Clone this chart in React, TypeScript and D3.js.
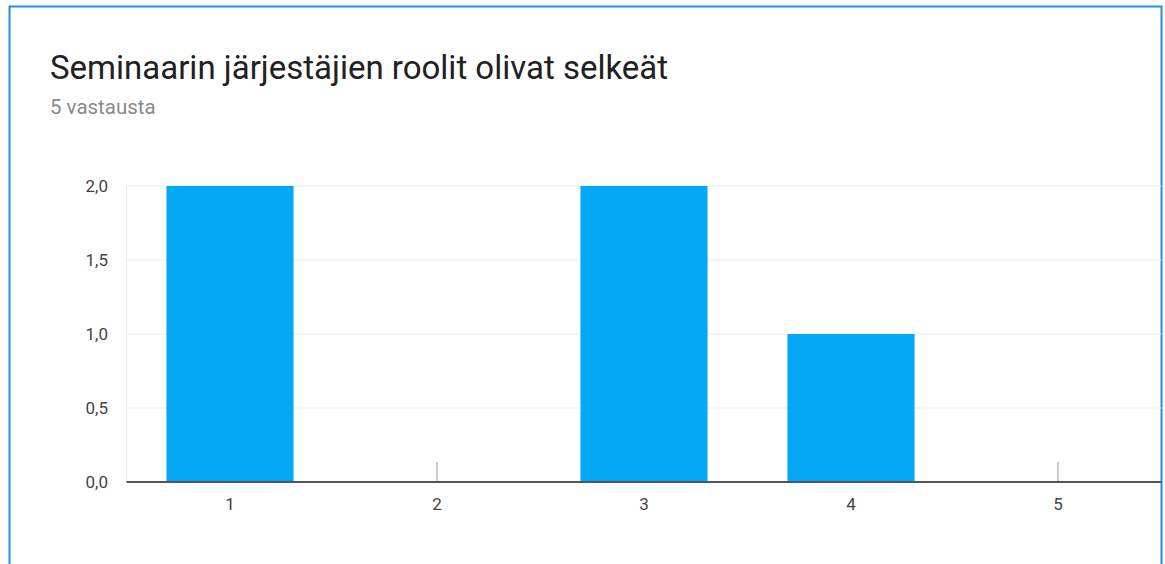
import React, { useEffect, useRef } from 'react';
import * as d3 from 'd3';

const title = 'Seminaarin järjestäjien roolit olivat selkeät';
const subtitle = '5 vastausta';
const categories = ['1', '2', '3', '4', '5'];
const counts = [2, 0, 2, 1, 0];
const yTicks = [0, 0.5, 1, 1.5, 2];

function App() {
  const svgRef = useRef<SVGSVGElement | null>(null);

  useEffect(() => {
    const svg = d3.select(svgRef.current);
    svg.selectAll('*').remove();

    const left = 126.5;
    const right = 1161.5;
    const top = 186;
    const bottom = 482;

    // card frame
    svg.append('rect')
      .attr('x', 9.5).attr('y', 6.5)
      .attr('width', 1152).attr('height', 600)
      .attr('fill', '#fff')
      .attr('stroke', '#1e8fe1')
      .attr('stroke-width', 2);

    svg.append('text')
      .attr('x', 50).attr('y', 79)
      .attr('font-family', 'Roboto')
      .attr('font-size', 33)
      .attr('fill', '#212121')
      .text(title);

    svg.append('text')
      .attr('x', 50).attr('y', 114)
      .attr('font-family', 'Roboto')
      .attr('font-size', 20.5)
      .attr('fill', '#8a8a8a')
      .text(subtitle);

    const x = d3.scaleBand()
      .domain(categories)
      .range([left, right])
      .paddingInner(0.386)
      .paddingOuter(0.193);

    const y = d3.scaleLinear()
      .domain([0, 2])
      .range([bottom, top]);

    const fmt = (v: number) => d3.format('.1f')(v).replace('.', ',');

    // grid
    svg.append('g')
      .selectAll('line')
      .data(yTicks.filter(t => t > 0))
      .enter().append('line')
      .attr('x1', left).attr('x2', right)
      .attr('y1', d => y(d)).attr('y2', d => y(d))
      .attr('stroke', '#ebebeb')
      .attr('stroke-width', 1);

    svg.append('line')
      .attr('x1', left).attr('x2', left)
      .attr('y1', top).attr('y2', bottom)
      .attr('stroke', '#ebebeb');

    svg.append('g')
      .selectAll('text')
      .data(yTicks)
      .enter().append('text')
      .attr('x', 108)
      .attr('y', d => y(d) + 6)
      .attr('text-anchor', 'end')
      .attr('font-family', 'Roboto')
      .attr('font-size', 17)
      .attr('fill', '#444')
      .text(d => fmt(d));

    const data = categories.map((c, i) => ({ c, v: counts[i] }));

    svg.append('g')
      .selectAll('rect')
      .data(data.filter(d => d.v > 0))
      .enter().append('rect')
      .attr('x', d => x(d.c)!)
      .attr('y', d => y(d.v))
      .attr('width', x.bandwidth())
      .attr('height', d => bottom - y(d.v))
      .attr('fill', '#03a9f4');

    // tiny markers for zero bars
    svg.append('g')
      .selectAll('line')
      .data(data.filter(d => d.v === 0))
      .enter().append('line')
      .attr('x1', d => x(d.c)! + x.bandwidth() / 2)
      .attr('x2', d => x(d.c)! + x.bandwidth() / 2)
      .attr('y1', bottom - 20).attr('y2', bottom)
      .attr('stroke', '#999')
      .attr('stroke-width', 1);

    svg.append('line')
      .attr('x1', left).attr('x2', right)
      .attr('y1', bottom).attr('y2', bottom)
      .attr('stroke', '#555')
      .attr('stroke-width', 2);

    svg.append('g')
      .selectAll('text')
      .data(categories)
      .enter().append('text')
      .attr('x', d => x(d)! + x.bandwidth() / 2)
      .attr('y', 510)
      .attr('text-anchor', 'middle')
      .attr('font-family', 'Roboto')
      .attr('font-size', 17)
      .attr('fill', '#444')
      .text(d => d);
  }, []);

  return (
    <svg ref={svgRef} width={1165} height={564}
      style={{ position: 'absolute', left: 0, top: 0, display: 'block' }} />
  );
}

export default App;
